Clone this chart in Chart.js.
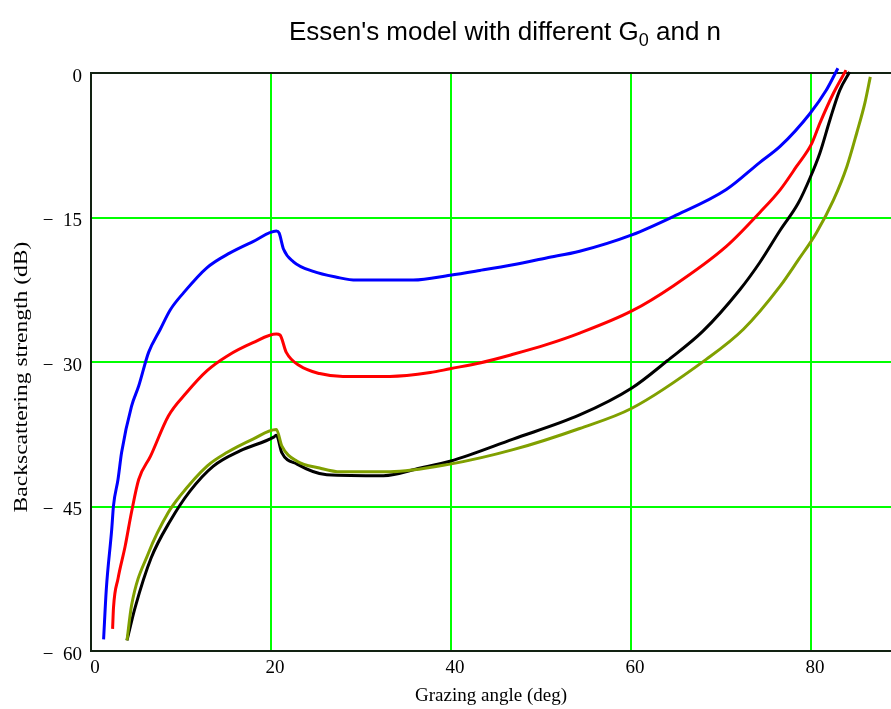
<!DOCTYPE html>
<html>
<head>
<meta charset="utf-8">
<title>Essen's model with different G0 and n</title>
<script src="https://cdn.jsdelivr.net/npm/chart.js@4.4.1/dist/chart.umd.min.js"></script>
<style>
  html, body { margin: 0; padding: 0; background: #ffffff; }
  #essenChart { display: block; }
</style>
</head>
<body>
<canvas id="essenChart" width="891" height="709"></canvas>
<script>
// grazing angle (deg) and backscattering strength (dB)
var blueAngle = [1.4, 1.7, 2.3, 2.5, 3.0, 3.4, 4.5, 5.3, 6.4, 7.7, 8.8, 10.3, 12.9, 15.4, 18.0, 20.6, 20.9, 21.4, 22.5, 24.7, 27.3, 29.5, 35.8, 39.9, 43.2, 46.9, 50.6, 54.3, 60.1, 64.7, 70.6, 74.3, 76.6, 79.9, 81.7, 83.0];
var blueDb = [-58.8, -53.6, -47.4, -44.9, -42.2, -39.4, -34.6, -32.5, -29.0, -26.6, -24.6, -22.8, -20.2, -18.7, -17.5, -16.4, -16.6, -18.3, -19.6, -20.6, -21.2, -21.5, -21.5, -21.0, -20.5, -19.9, -19.2, -18.5, -16.8, -14.9, -12.1, -9.3, -7.6, -4.2, -1.8, 0.5];

var redAngle = [2.4, 2.5, 3.0, 3.8, 4.5, 5.3, 6.6, 8.6, 10.6, 12.9, 15.1, 18.0, 20.6, 21.0, 21.7, 23.2, 25.4, 28.0, 33.2, 37.7, 39.9, 43.2, 46.9, 50.6, 54.3, 60.1, 64.7, 70.6, 74.3, 76.6, 78.4, 80.1, 81.0, 82.5, 83.9];
var redDb = [-57.7, -55.5, -52.5, -49.1, -45.6, -42.2, -39.8, -35.6, -33.2, -30.9, -29.4, -28.0, -27.1, -27.2, -29.0, -30.4, -31.2, -31.5, -31.5, -31.1, -30.7, -30.1, -29.2, -28.2, -27.0, -24.7, -22.1, -18.0, -14.5, -12.1, -9.7, -7.3, -5.2, -2.1, 0.3];

var blackAngle = [4.0, 4.9, 6.7, 8.8, 11.0, 13.6, 16.6, 20.3, 20.6, 21.2, 22.9, 26.2, 32.5, 36.6, 39.9, 46.9, 54.3, 60.1, 64.0, 68.0, 72.1, 74.3, 76.6, 78.6, 79.9, 81.0, 82.1, 83.2, 84.3];
var blackDb = [-58.9, -55.5, -50.3, -46.5, -43.4, -40.8, -39.2, -37.8, -37.6, -39.4, -40.6, -41.7, -41.8, -41.0, -40.3, -38.0, -35.5, -32.7, -29.9, -26.8, -22.5, -19.7, -16.3, -13.5, -10.9, -8.3, -4.9, -1.8, 0.1];

var oliveAngle = [4.0, 4.5, 6.4, 8.6, 9.9, 12.9, 15.1, 18.0, 20.6, 21.2, 22.9, 25.4, 27.7, 33.2, 39.9, 46.9, 54.3, 60.1, 68.4, 72.5, 76.6, 78.6, 80.6, 82.5, 84.0, 85.1, 86.0, 86.6];
var oliveDb = [-58.9, -55.3, -49.8, -45.6, -43.9, -40.8, -39.4, -38.0, -37.0, -38.7, -40.3, -41.0, -41.4, -41.4, -40.6, -39.1, -36.9, -34.8, -29.7, -26.6, -22.1, -19.4, -16.6, -13.2, -9.7, -6.2, -3.1, -0.4];

var xTicks = [0, 20, 40, 60, 80];
var yTicks = [0, -15, -30, -45, -60];

var serif = '"Liberation Serif", "Times New Roman", serif';

function toPoints(xs, ys) {
    return xs.map(function(x, i) { return { x: x, y: ys[i] }; });
}

function series(label, xs, ys, color, order) {
    return {
        label: label,
        data: toPoints(xs, ys),
        borderColor: color,
        backgroundColor: color,
        borderWidth: 3,
        pointRadius: 0,
        fill: false,
        cubicInterpolationMode: 'monotone',
        clip: false,
        order: order
    };
}

// title with a subscript 0, and the stretched y axis title
var textPlugin = {
    id: 'texts',
    afterDraw: function(chart) {
        var c = chart.ctx;
        var big = '26px "Liberation Sans", Arial, sans-serif';
        var small = '18px "Liberation Sans", Arial, sans-serif';
        var a = "Essen's model with different G", s = '0', b = ' and n';
        c.save();
        c.fillStyle = '#000000';
        c.textBaseline = 'alphabetic';
        c.font = big;
        var wa = c.measureText(a).width, wb = c.measureText(b).width;
        c.font = small;
        var ws = c.measureText(s).width;
        var x = 505 - (wa + ws + wb) / 2, y = 40;
        c.font = big;
        c.fillText(a, x, y);
        c.font = small;
        c.fillText(s, x + wa, y + 6);
        c.font = big;
        c.fillText(b, x + wa + ws, y);

        c.translate(22, 377);
        c.rotate(-Math.PI / 2);
        c.scale(1.24, 1);
        c.font = '19px ' + serif;
        c.textAlign = 'center';
        c.textBaseline = 'middle';
        c.fillText('Backscattering strength (dB)', 0, 0);
        c.restore();
    }
};

// dark frame round the plot, under the curves
var framePlugin = {
    id: 'frame',
    beforeDatasetsDraw: function(chart) {
        var a = chart.chartArea, c = chart.ctx;
        c.save();
        c.strokeStyle = '#122212';
        c.lineWidth = 2;
        c.beginPath();
        c.moveTo(a.right, a.top);
        c.lineTo(a.left, a.top);
        c.lineTo(a.left, a.bottom);
        c.lineTo(a.right, a.bottom);
        c.stroke();
        c.restore();
    }
};

document.addEventListener("DOMContentLoaded", function() {
    var ctx = document.getElementById('essenChart').getContext('2d');
    var myChart = new Chart(ctx, {
        type: 'line',
        data: {
            datasets: [
                series('G0 a', blueAngle, blueDb, '#0000ff', 4),
                series('G0 b', redAngle, redDb, '#ff0000', 3),
                series('G0 c', blackAngle, blackDb, '#000000', 2),
                series('G0 d', oliveAngle, oliveDb, '#80a000', 1)
            ]
        },
        options: {
            responsive: false,
            animation: false,
            devicePixelRatio: 1,
            layout: { padding: { top: 73, left: 0, right: 0, bottom: 0 } },
            plugins: {
                legend: { display: false },
                title: { display: false },
                tooltip: { enabled: false }
            },
            scales: {
                x: {
                    type: 'linear',
                    min: 0,
                    max: 88.9,
                    afterBuildTicks: function(scale) {
                        scale.ticks = xTicks.map(function(v) { return { value: v }; });
                    },
                    afterFit: function(scale) { scale.height = 58; },
                    grid: { color: '#00ff00', lineWidth: 2, drawTicks: false },
                    border: { display: false },
                    ticks: {
                        color: '#000000',
                        padding: 6,
                        labelOffset: 4,
                        font: { family: serif, size: 19 }
                    },
                    title: {
                        display: true,
                        text: 'Grazing angle (deg)',
                        color: '#000000',
                        padding: { top: 0, bottom: 2 },
                        font: { family: serif, size: 19 }
                    }
                },
                y: {
                    type: 'linear',
                    min: -60,
                    max: 0,
                    afterBuildTicks: function(scale) {
                        scale.ticks = yTicks.map(function(v) { return { value: v }; });
                    },
                    afterFit: function(scale) { scale.width = 91; },
                    grid: { color: '#00ff00', lineWidth: 2, drawTicks: false },
                    border: { display: false },
                    ticks: {
                        color: '#000000',
                        padding: 9,
                        labelOffset: 4,
                        font: { family: serif, size: 19 },
                        callback: function(v) { return v < 0 ? '\u2212  ' + Math.abs(v) : String(v); }
                    },
                    title: { display: false }
                }
            }
        },
        plugins: [textPlugin, framePlugin]
    });
});
</script>
</body>
</html>
